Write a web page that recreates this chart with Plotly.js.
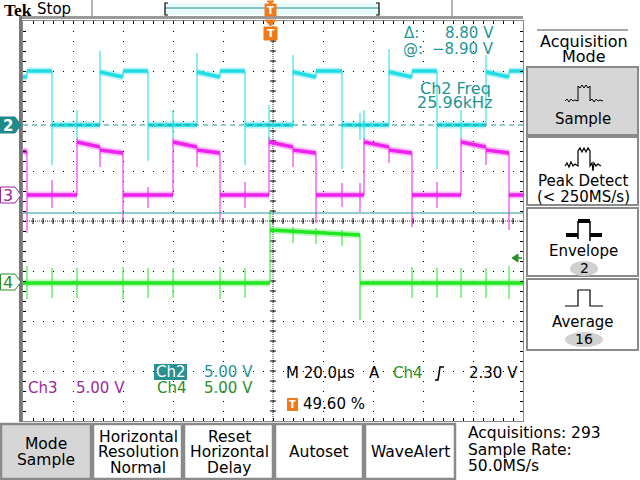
<!DOCTYPE html>
<html><head><meta charset="utf-8">
<script src="https://cdn.plot.ly/plotly-3.0.1.min.js"></script>
<style>html,body{margin:0;padding:0;background:#fff}#chart{width:640px;height:480px}</style>
</head><body><div id="chart"></div>
<script>
// ---------------- data (time in µs, channel values in volts) ----------------
const timeRange = [-99.2, 100.8];      // 10 div x 20.0 µs, trigger at 49.60 %
const voltsPerDiv = 5.0;
const ch2Pos = 1.92, ch3Pos = 0.52, ch4Pos = -1.24;   // channel ground positions, divisions

// Ch2 (cyan) level segments
const ch2Times = [-99.2, -97.6, -87.6, -68.4, -59.2, -49.2, -29.6, -20.4, -10.4, 8.8, 18.0, 28.4, 47.2, 56.4, 66.4, 86.0, 95.2, 100.8];
const ch2Start = [4.8, 5.4, 0, 5.3, 5.4, 0, 5.3, 5.4, 0, 5.3, 5.4, 0, 5.3, 5.4, 0, 5.3, 5.4];
const ch2End   = [4.8, 5.4, 0, 4.8, 5.4, 0, 4.8, 5.4, 0, 4.8, 5.4, 0, 4.8, 5.4, 0, 4.8, 5.4];
const ch2Peak  = [null, -4.0, 7.4, null, -3.6, 7.2, null, -4.0, 7.0, null, -4.4, 7.6, null, -4.4, 7.0, null];
const ch2SpikeT  = [-77.6, -39.2, -0.8, 35.6, 37.2, 76.0];
const ch2SpikeLo = [-1.5, -1.4, -1.6, -1.5, -1.4, -1.4];
const ch2SpikeHi = [1.5, 1.5, 2.0, 1.2, 1.5, 1.5];

// Ch3 (magenta)
const ch3Times = [-99.2, -97.6, -77.6, -68.4, -59.2, -39.2, -29.6, -20.4, -0.8, 8.8, 18.0, 37.2, 47.2, 56.4, 76.0, 86.0, 95.2, 100.8];
const ch3Start = [4.4, 0, 5.3, 4.5, 0, 5.3, 4.5, 0, 5.3, 4.5, 0, 5.3, 4.5, 0, 5.3, 4.5, 0];
const ch3End   = [4.3, 0, 4.8, 4.2, 0, 4.8, 4.2, 0, 4.8, 4.2, 0, 4.8, 4.2, 0, 4.8, 4.2, 0];
const ch3Peak  = [-3.8, 5.7, 2.8, -2.5, 5.7, 2.8, -2.5, 5.8, 2.8, -2.8, 5.7, 3.2, -3.2, 5.7, 3.0, -3.5];
const ch3SpikeT  = [-87.6, -49.2, -10.4, 28.4, 35.6, 66.4];
const ch3SpikeLo = [-1.3, -1.3, -1.3, -1.2, -1.7, -1.3];
const ch3SpikeHi = [1.5, 0.8, 1.3, 1.2, 1.2, 1.3];

// Ch4 (green)
const ch4Times = [-99.2, -0.4, 35.6, 100.8];
const ch4Start = [0, 5.3, 0];
const ch4End   = [0, 4.8, 0];
const ch4Peak  = [7.3, -3.7];
const ch4SpikeT  = [-97.6, -87.6, -77.6, -59.2, -49.2, -39.2, -20.4, -10.4, 8.8, 18.0, 28.4, 56.4, 66.4, 76.0, 86.0, 95.2];
const ch4SpikeLo = [-1.6, -1.5, -1.5, -1.6, -1.5, -1.5, -1.6, -1.5, 4.0, 3.9, 3.7, -1.5, -1.5, -1.5, -1.5, -1.6];
const ch4SpikeHi = [1.7, 1.5, 1.5, 1.6, 1.5, 1.5, 1.6, 1.5, 5.6, 5.5, 5.3, 1.6, 1.5, 1.5, 1.5, 1.7];

// horizontal cursors (Ch2 volts)
const cursorLevels = [0, -8.8];

// ---------------- styling ----------------
const FONT = 'DejaVu Sans, sans-serif';
const CYAN = '#20dde4', MAG = '#ee22ee', GRN = '#22e622';
const TEAL = '#249595', PURP = '#9a2a9a', DGRN = '#2a8f2a', ORANGE = '#f07a1a';

// channel volts -> screen divisions (vertical scale + position of each channel)
const toDiv = (v, pos) => (v === null ? null : v / voltsPerDiv + pos);

function channel(times, st, en, pk, sT, sLo, sHi, pos, color) {
  const bx = [], by = [], ex = [], ey = [];
  for (let i = 0; i < st.length; i++) {
    bx.push(times[i], times[i + 1], null); by.push(toDiv(st[i], pos), toDiv(en[i], pos), null);
    if (i > 0) {
      ex.push(times[i]); ey.push(toDiv(en[i - 1], pos));
      if (pk[i - 1] !== null) { ex.push(times[i]); ey.push(toDiv(pk[i - 1], pos)); }
      ex.push(times[i], null); ey.push(toDiv(st[i], pos), null);
    }
  }
  for (let k = 0; k < sT.length; k++) { ex.push(sT[k], sT[k], null); ey.push(toDiv(sLo[k], pos), toDiv(sHi[k], pos), null); }
  const common = {type: 'scatter', mode: 'lines', hoverinfo: 'skip', showlegend: false};
  return [
    Object.assign({x: ex, y: ey, line: {color: color, width: 1.2}, opacity: 0.85}, common),
    Object.assign({x: bx, y: by, line: {color: color, width: 7}, opacity: 0.3}, common),
    Object.assign({x: bx, y: by, line: {color: color, width: 3.5}}, common)
  ];
}

const traces = [].concat(
  channel(ch3Times, ch3Start, ch3End, ch3Peak, ch3SpikeT, ch3SpikeLo, ch3SpikeHi, ch3Pos, MAG),
  channel(ch2Times, ch2Start, ch2End, ch2Peak, ch2SpikeT, ch2SpikeLo, ch2SpikeHi, ch2Pos, CYAN),
  channel(ch4Times, ch4Start, ch4End, ch4Peak, ch4SpikeT, ch4SpikeLo, ch4SpikeHi, ch4Pos, GRN)
);

// pixel -> paper helpers for the instrument frame (plot area 23..523 x 21..421)
const PX = x => (x - 23) / 500;
const PY = y => (421 - y) / 400;
function rect(x0, y0, x1, y1, fill, lc, lw, layer) {
  return {type: 'rect', xref: 'paper', yref: 'paper', x0: PX(x0), x1: PX(x1), y0: PY(y1), y1: PY(y0),
          fillcolor: fill, line: {color: lc || 'rgba(0,0,0,0)', width: lw || 0}, layer: layer || 'above'};
}
function path(pts, close, fill, lc, lw) {
  let d = pts.map((p, i) => (i ? 'L' : 'M') + PX(p[0]).toFixed(5) + ',' + PY(p[1]).toFixed(5)).join(' ');
  if (close) d += ' Z';
  return {type: 'path', xref: 'paper', yref: 'paper', path: d, fillcolor: fill || 'rgba(0,0,0,0)',
          line: {color: lc || 'rgba(0,0,0,0)', width: lw || 0}, layer: 'above'};
}
function seg(x0, y0, x1, y1, c, w, dash) {
  return {type: 'line', xref: 'paper', yref: 'paper', x0: PX(x0), x1: PX(x1), y0: PY(y0), y1: PY(y1),
          line: {color: c, width: w, dash: dash || 'solid'}, layer: 'above'};
}
function T(text, x, y, size, color, anchor, extra) {
  return Object.assign({xref: 'paper', yref: 'paper', x: PX(x), y: PY(y), text: text, showarrow: false,
    xanchor: anchor || 'center', yanchor: 'middle', borderpad: 0,
    font: {family: FONT, size: size, color: color}}, extra || {});
}

const centerT = (timeRange[0] + timeRange[1]) / 2;
const shapes = [
  // center cross (dense dots)
  {type: 'line', xref: 'x', yref: 'paper', x0: centerT, x1: centerT, y0: 0, y1: 1, line: {color: '#333', width: 1, dash: '1px,1px'}, layer: 'below'},
  {type: 'line', xref: 'paper', yref: 'y', x0: 0, x1: 1, y0: 0, y1: 0, line: {color: '#333', width: 1, dash: '1px,1px'}, layer: 'below'}
];
// minor ticks on the center cross (every 1/5 division)
for (let t = timeRange[0] + 4; t < timeRange[1] - 1; t += 4) {
  shapes.push({type: 'line', xref: 'x', yref: 'y', x0: t, x1: t, y0: -0.06, y1: 0.06, line: {color: '#000', width: 1}, layer: 'below'});
}
for (let d = -3.8; d < 3.9; d += 0.2) {
  shapes.push({type: 'line', xref: 'x', yref: 'y', x0: centerT - 1.2, x1: centerT + 1.2, y0: d, y1: d, line: {color: '#000', width: 1}, layer: 'below'});
}
shapes.push(
  // cursors on Ch2
  {type: 'line', xref: 'paper', yref: 'y', x0: 0, x1: 1, y0: toDiv(cursorLevels[0], ch2Pos), y1: toDiv(cursorLevels[0], ch2Pos), line: {color: TEAL, width: 1, dash: '5px,4px'}, layer: 'above'},
  {type: 'line', xref: 'paper', yref: 'y', x0: 0, x1: 1, y0: toDiv(cursorLevels[1], ch2Pos), y1: toDiv(cursorLevels[1], ch2Pos), line: {color: TEAL, width: 1}, layer: 'above'},
  // thick frame left/top
  rect(19, 16, 523, 19, '#9a9a9a'),
  rect(19, 16, 22, 422, '#777'),
  // top status bar
  seg(92, 0, 92, 16, '#999', 1.5),
  seg(452, 0, 452, 16, '#999', 1.5),
  rect(165, 3, 379, 15, '#e9fafa'),
  seg(165, 8, 379, 8, '#2a8a8a', 1.2),
  path([[168, 3], [165, 3], [165, 15], [168, 15]], false, null, '#000', 1.2),
  path([[376, 3], [379, 3], [379, 15], [376, 15]], false, null, '#000', 1.2),
  path([[267, 1], [274, 1], [270.5, 4]], true, ORANGE, ORANGE, 1),
  rect(265, 4, 276, 16, ORANGE, ORANGE, 1),
  // trigger marker in plot
  path([[265, 20], [276, 20], [270.5, 26]], true, ORANGE, ORANGE, 1),
  rect(264, 27, 277, 40, ORANGE, ORANGE, 1),
  // channel ground markers
  path([[0, 117], [15, 117], [21, 125], [15, 133], [0, 133]], true, '#1f8a8a', '#1f8a8a', 1),
  path([[0.5, 187], [15, 187], [21, 195], [15, 203], [0.5, 203]], true, '#fff', PURP, 1),
  path([[0.5, 274], [15, 274], [21, 282], [15, 290], [0.5, 290]], true, '#fff', DGRN, 1),
  // trigger level arrow
  path([[512, 258], [518, 254], [518, 262]], true, DGRN, DGRN, 1),
  seg(518, 258, 522, 258, DGRN, 1.5),
  // readout boxes
  rect(154, 364, 187, 380, '#2a9090'),
  rect(287, 398, 298, 411, ORANGE),
  path([[435, 380], [438, 380], [440, 367], [444, 367]], false, null, '#000', 1.6),
  // right side menu
  seg(537, 30, 628, 30, '#888', 1.5),
  rect(527, 67, 638, 135, '#d6d6d6', '#8a8a8a', 2),
  rect(527, 137, 638, 205, '#fff', '#8a8a8a', 2),
  rect(527, 208, 638, 276, '#fff', '#8a8a8a', 2),
  rect(527, 279, 638, 350, '#fff', '#8a8a8a', 2),
  {type: 'circle', xref: 'paper', yref: 'paper', x0: PX(570), x1: PX(598), y0: PY(276), y1: PY(261), fillcolor: '#d0d0d0', line: {width: 0}, layer: 'above'},
  {type: 'circle', xref: 'paper', yref: 'paper', x0: PX(565), x1: PX(603), y0: PY(347), y1: PY(332), fillcolor: '#d0d0d0', line: {width: 0}, layer: 'above'},
  // icons
  path([[565, 101], [567, 99], [569, 102], [571, 99], [573, 101], [575, 100], [578, 101], [578, 86], [580, 88], [582, 85], [584, 88], [586, 85], [588, 88], [590, 86], [590, 101], [592, 99], [594, 102], [596, 99], [598, 101], [600, 100], [603, 101]], false, null, '#000', 1),
  path([[565, 166], [567, 163], [569, 167], [571, 162], [573, 166], [575, 164], [578, 166], [578, 151], [580, 148], [582, 152], [584, 148], [586, 152], [588, 148], [590, 151], [590, 166], [592, 163], [593, 171], [594, 163], [596, 166], [598, 164], [601, 166]], false, null, '#000', 1.2),
  rect(566, 233, 578, 237, '#000'),
  rect(578, 219, 590, 223, '#000'),
  rect(590, 233, 602, 237, '#000'),
  seg(578, 221, 578, 239, '#000', 1.5),
  seg(590, 221, 590, 241, '#000', 1.5),
  path([[565, 306], [578, 306], [578, 290], [590, 290], [590, 306], [603, 306]], false, null, '#000', 1.2),
  // bottom buttons
  rect(1, 424, 91, 479, '#d6d6d6', '#8a8a8a', 2.5),
  rect(93, 424, 182, 479, '#fff', '#8a8a8a', 2.5),
  rect(184, 424, 273, 479, '#fff', '#8a8a8a', 2.5),
  rect(275, 424, 363, 479, '#fff', '#8a8a8a', 2.5),
  rect(365, 424, 455, 479, '#fff', '#8a8a8a', 2.5)
);

const annotations = [
  T('<b>Tek</b>', 3, 10, 17.5, '#000', 'left', {font: {family: 'Liberation Serif, serif', size: 17.5, color: '#000'}}),
  T('Stop', 36, 9.5, 15, '#000', 'left'),
  T('<b>T</b>', 270.5, 10.5, 10, '#fff'),
  T('<b>T</b>', 270.5, 34, 11, '#fff'),
  T('Δ:', 403, 33, 15, TEAL, 'left'),
  T('8.80 V', 495, 33, 15, TEAL, 'right'),
  T('@:', 402, 49, 15, TEAL, 'left'),
  T('−8.90 V', 495, 49, 15, TEAL, 'right'),
  T('Ch2 Freq', 455, 88, 16, TEAL),
  T('25.96kHz', 455, 103, 16, TEAL),
  T('<b>2</b>', 8, 125.5, 15, '#fff'),
  T('3', 8, 195.5, 16, PURP),
  T('4', 8, 282.5, 16, DGRN),
  T('Ch2', 170.5, 372, 15, '#fff'),
  T('5.00 V', 203, 372, 15, TEAL, 'left'),
  T('Ch4', 156, 388, 15, DGRN, 'left'),
  T('5.00 V', 203, 388, 15, DGRN, 'left'),
  T('Ch3', 27, 388, 15, PURP, 'left'),
  T('5.00 V', 75, 388, 15, PURP, 'left'),
  T('M 20.0µs', 285, 373, 15, '#000', 'left'),
  T('A', 368, 373, 15, '#000', 'left'),
  T('Ch4', 392, 373, 15, DGRN, 'left'),
  T('2.30 V', 519, 373, 15, '#000', 'right'),
  T('<b>T</b>', 292.5, 404.5, 10, '#fff'),
  T('49.60 %', 302, 404, 15, '#000', 'left'),
  // right menu
  T('Acquisition', 584, 41, 16, '#000'),
  T('Mode', 584, 56, 16, '#000'),
  T('Sample', 583, 119, 15, '#000'),
  T('Peak Detect', 583, 181, 15, '#000'),
  T('(< 250MS/s)', 583, 197, 15, '#000'),
  T('Envelope', 583, 251, 15, '#000'),
  T('2', 584, 268, 14, '#000'),
  T('Average', 583, 322, 15, '#000'),
  T('16', 584, 339, 14, '#000'),
  // bottom menu
  T('Mode', 46, 444, 15.5, '#000'),
  T('Sample', 46, 460, 15.5, '#000'),
  T('Horizontal', 138, 437, 15.5, '#000'),
  T('Resolution', 138, 452, 15.5, '#000'),
  T('Normal', 138, 468, 15.5, '#000'),
  T('Reset', 229, 437, 15.5, '#000'),
  T('Horizontal', 229, 452, 15.5, '#000'),
  T('Delay', 229, 468, 15.5, '#000'),
  T('Autoset', 319, 452, 15.5, '#000'),
  T('WaveAlert', 410, 452, 15.5, '#000'),
  T('Acquisitions: 293', 467, 433, 15.5, '#000', 'left'),
  T('Sample Rate:', 467, 450, 15.5, '#000', 'left'),
  T('50.0MS/s', 467, 466, 15.5, '#000', 'left')
];

const layout = {
  width: 640, height: 480,
  margin: {l: 23, r: 117, t: 21, b: 59, pad: 0},
  paper_bgcolor: '#fff', plot_bgcolor: '#fff',
  showlegend: false, hovermode: false,
  xaxis: {range: timeRange, tick0: timeRange[0], dtick: 20, showgrid: true, gridcolor: '#000', gridwidth: 1, griddash: '1px,9px',
          zeroline: false, showticklabels: false, ticks: 'inside', ticklen: 3, tickcolor: '#000',
          showline: true, linecolor: '#8a8a8a', linewidth: 1, mirror: 'ticks',
          minor: {tick0: timeRange[0], dtick: 4, ticks: 'inside', ticklen: 3, tickcolor: '#000', showgrid: false}},
  yaxis: {range: [-4, 4], tick0: 0, dtick: 1, showgrid: true, gridcolor: '#000', gridwidth: 1, griddash: '1px,9px',
          zeroline: false, showticklabels: false, ticks: 'inside', ticklen: 3, tickcolor: '#000',
          showline: true, linecolor: '#8a8a8a', linewidth: 1, mirror: 'ticks',
          minor: {tick0: 0, dtick: 0.2, ticks: 'inside', ticklen: 3, tickcolor: '#000', showgrid: false}},
  shapes: shapes,
  annotations: annotations
};

Plotly.newPlot('chart', traces, layout, {displayModeBar: false, staticPlot: true});
</script>
</body></html>
